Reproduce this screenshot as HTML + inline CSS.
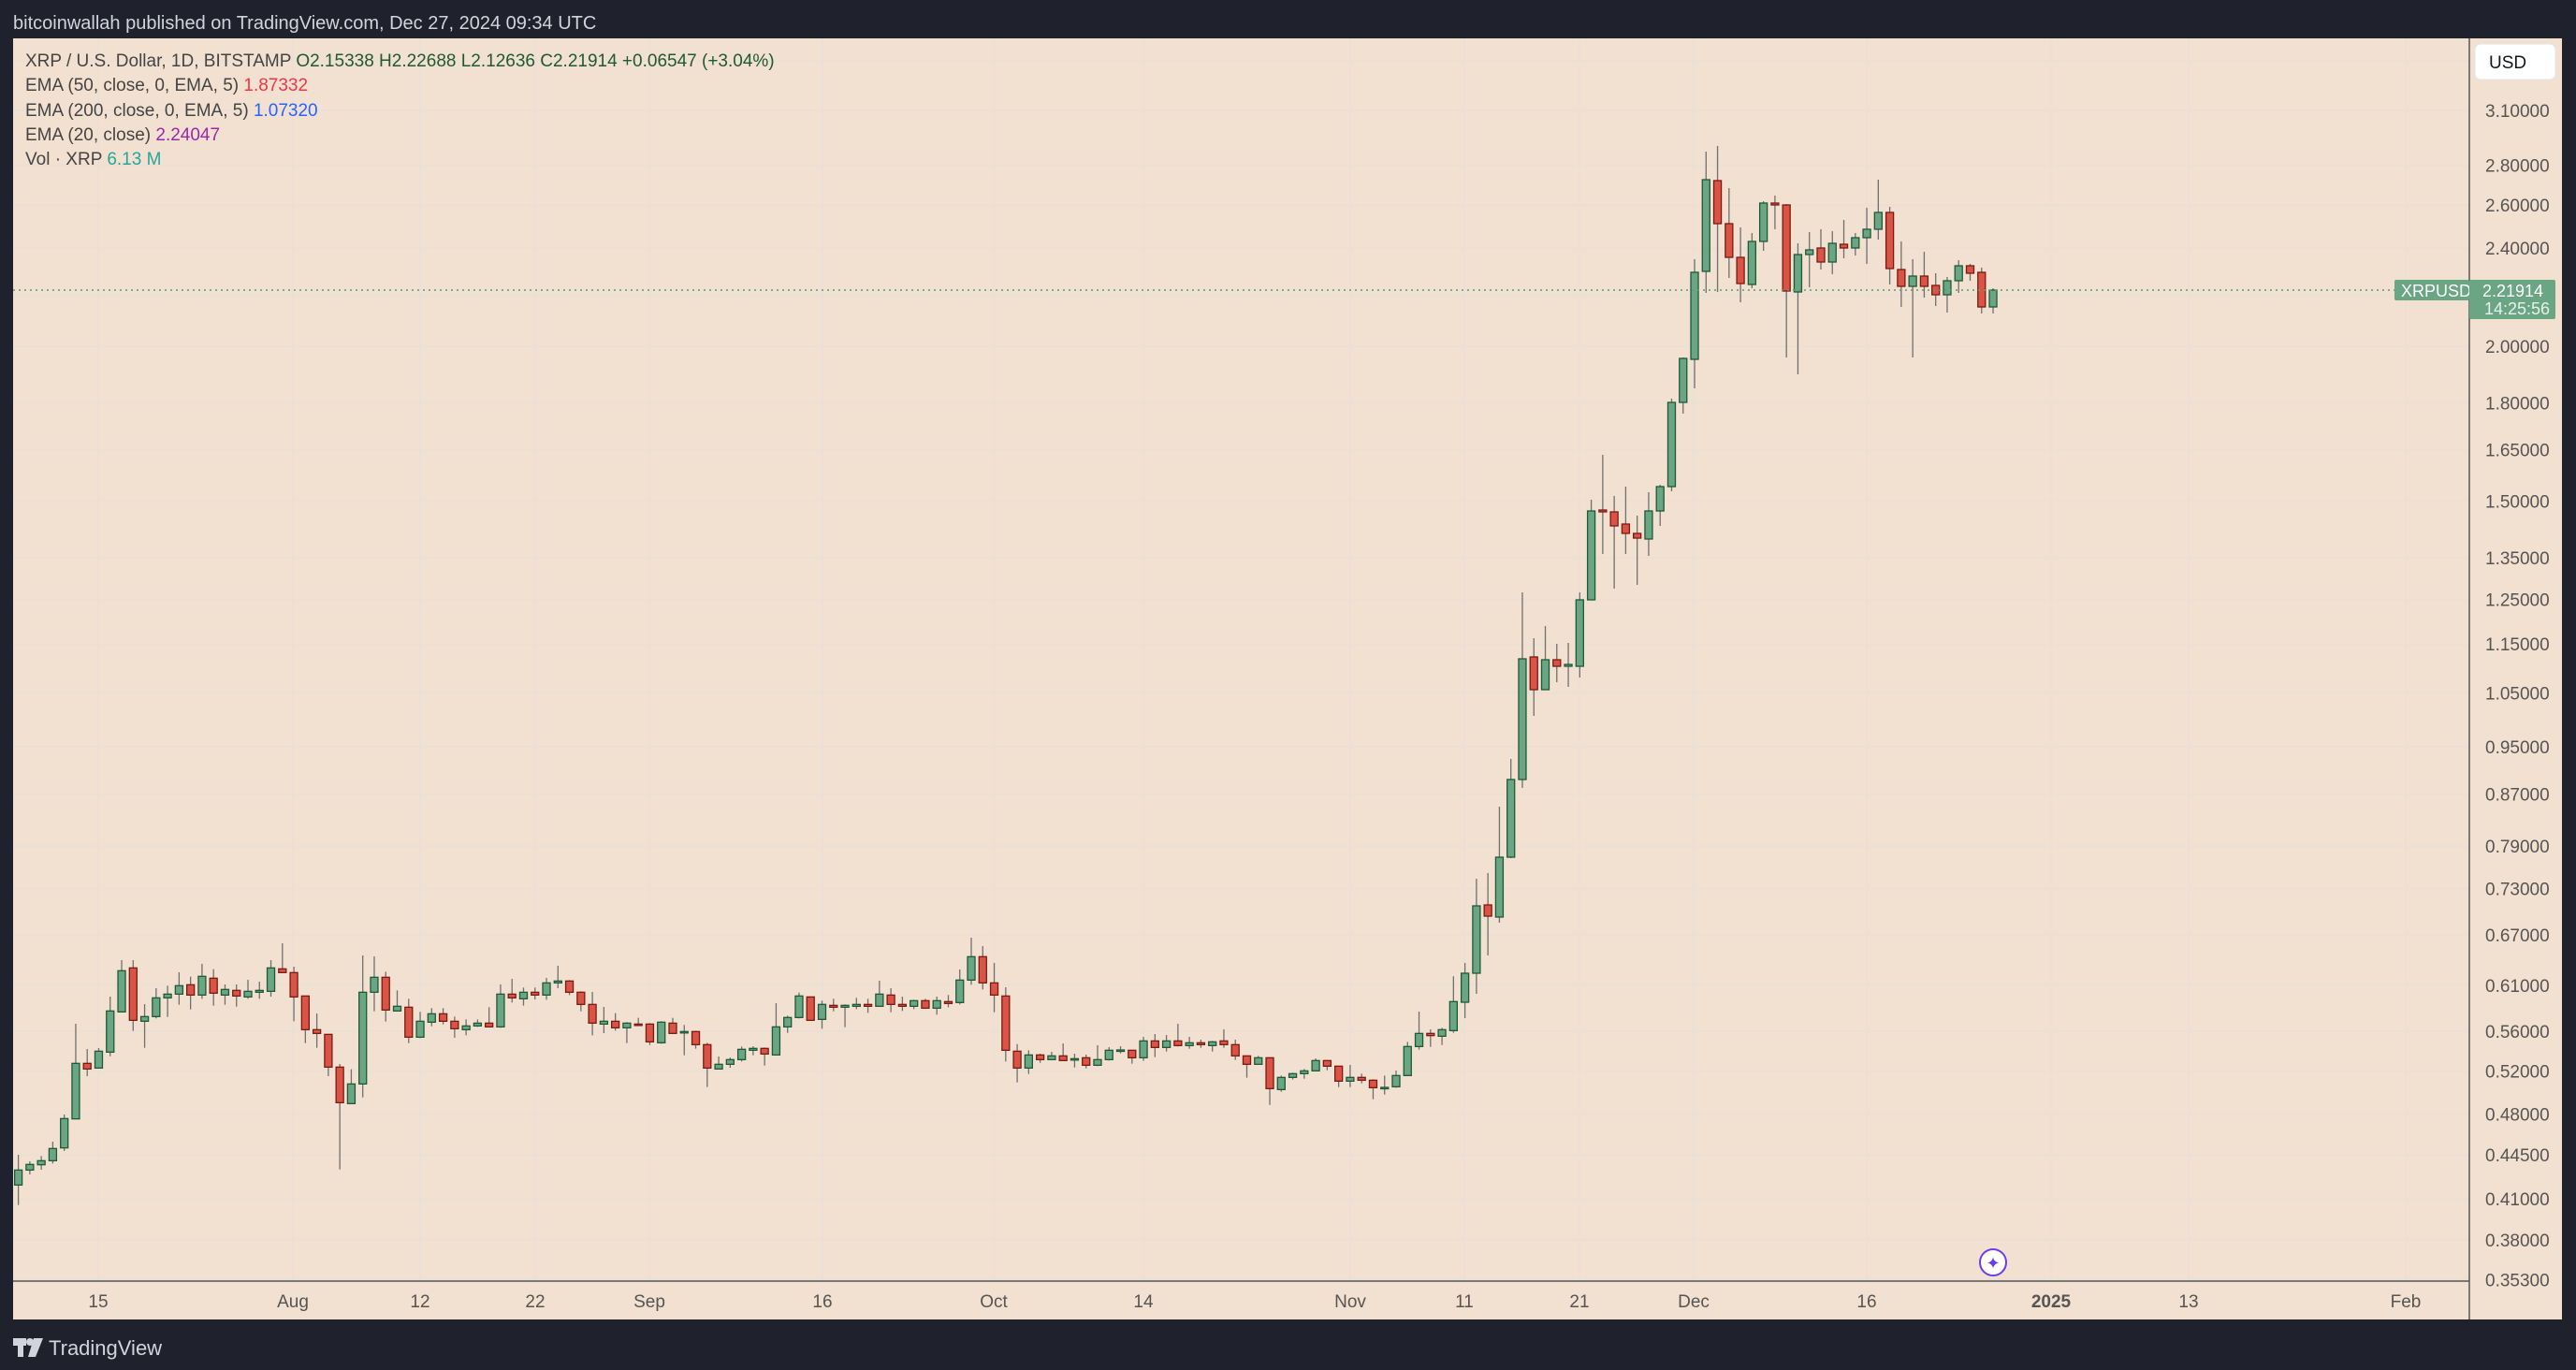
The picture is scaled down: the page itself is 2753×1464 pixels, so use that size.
<!DOCTYPE html>
<html><head><meta charset="utf-8"><style>
html,body{margin:0;padding:0;background:#1f222d;width:2753px;height:1464px;overflow:hidden}
svg text{font-family:"Liberation Sans",sans-serif}
</style></head><body>
<svg id="s" width="2753" height="1464" xmlns="http://www.w3.org/2000/svg">
<rect x="0" y="0" width="2753" height="1464" fill="#1f222d"/>
<text x="14" y="31" font-size="20" fill="#d1d4dc">bitcoinwallah published on TradingView.com, Dec 27, 2024 09:34 UTC</text>
<rect x="14" y="41" width="2724" height="1369" fill="#f2e0d0"/>
<g id="grid"></g>
<g id="candles"></g>
<line x1="14" y1="1369" x2="2639" y2="1369" stroke="#555" stroke-width="1.5"/>
<line x1="2639" y1="41" x2="2639" y2="1410" stroke="#555" stroke-width="1.5"/>
<g id="labels" font-size="19" fill="#555"></g>
<g font-size="19" fill="#444">
<text x="27" y="71">XRP / U.S. Dollar, 1D, BITSTAMP <tspan fill="#1f5a30">O2.15338  H2.22688  L2.12636  C2.21914  +0.06547 (+3.04%)</tspan></text>
<text x="27" y="97">EMA (50, close, 0, EMA, 5) <tspan fill="#f23645">1.87332</tspan></text>
<text x="27" y="124">EMA (200, close, 0, EMA, 5) <tspan fill="#2962ff">1.07320</tspan></text>
<text x="27" y="150">EMA (20, close) <tspan fill="#9c27b0">2.24047</tspan></text>
<text x="27" y="176">Vol · XRP <tspan fill="#26a69a">6.13 M</tspan></text>
</g>
<rect x="2645" y="47" width="86" height="38" rx="6" fill="#fff" stroke="#e0e3eb"/>
<text x="2660" y="73" font-size="19" fill="#131722">USD</text>
<line x1="14" y1="310" x2="2559" y2="310" stroke="#5a9e74" stroke-width="1.5" stroke-dasharray="2,4"/>
<rect x="2559" y="299" width="80" height="22" rx="2" fill="#6aa584"/>
<text x="2566" y="317" font-size="18" fill="#fff">XRPUSD</text>
<rect x="2639" y="299" width="92" height="42" rx="2" fill="#6aa584"/>
<text x="2653" y="317" font-size="18" fill="#fff">2.21914</text>
<text x="2655" y="336" font-size="18" fill="#e8f2ec">14:25:56</text>
<circle cx="2130" cy="1349" r="14" fill="#fff" stroke="#6a3df0" stroke-width="2"/>
<text x="2130" y="1356" font-size="18" fill="#6a3df0" text-anchor="middle">✦</text>
<g fill="#d1d4dc"><rect x="14" y="1430" width="14" height="8"/><rect x="19" y="1430" width="6" height="20"/><circle cx="32" cy="1434" r="4"/><polygon points="36,1430 46,1430 38,1450 30,1450"/></g>
<text x="52" y="1448" font-size="22" fill="#d1d4dc">TradingView</text>
</svg>
<script>
var NS="http://www.w3.org/2000/svg";
function el(p,t,a,tx){var e=document.createElementNS(NS,t);for(var k in a)e.setAttribute(k,a[k]);if(tx!==undefined)e.textContent=tx;document.getElementById(p).appendChild(e);return e;}
function py(p){return 370-575*(Math.log(p)-Math.log(2));}
var ticks=[3.1,2.8,2.6,2.4,2.0,1.8,1.65,1.5,1.35,1.25,1.15,1.05,0.95,0.87,0.79,0.73,0.67,0.61,0.56,0.52,0.48,0.445,0.41,0.38,0.353];
var gc="#ebdfd6";
[3.4,2.2].concat(ticks).forEach(function(p){var y=py(p);if(y<1369)el("grid","line",{x1:14,x2:2639,y1:y,y2:y,stroke:gc,"stroke-width":2});});
ticks.forEach(function(p){var y=py(p);var s=p.toFixed(5);if(p==0.445)s="0.44500";el("labels","text",{x:2656,y:y+7},s);});
var dates=[[105,"15"],[313,"Aug"],[449,"12"],[572,"22"],[694,"Sep"],[879,"16"],[1062,"Oct"],[1222,"14"],[1443,"Nov"],[1565,"11"],[1688,"21"],[1810,"Dec"],[1995,"16"],[2192,"2025"],[2339,"13"],[2571,"Feb"]];
dates.forEach(function(d){el("grid","line",{x1:d[0],x2:d[0],y1:41,y2:1369,stroke:gc,"stroke-width":2});el("labels","text",{x:d[0],y:1397,"text-anchor":"middle","font-weight":d[1]=="2025"?"bold":"normal"},d[1]);});
var A=[[811,859,762,923,'g'],[793,811,783,825,'g'],[781,794,766,810,'g'],[742,781,720,790,'g'],[646,740,633,750,'g'],[469,647,342,647,'g'],[469,487,423,510,'r'],[430,484,420,484,'g'],[301,433,255,446,'g'],[172,304,138,304,'g'],[163,331,138,365,'r'],[319,334,279,419,'g'],[259,319,228,325,'g'],[247,259,220,320,'g'],[220,247,177,281,'g'],[217,250,191,296,'r'],[190,250,150,262,'g'],[196,244,167,284,'r'],[232,250,216,281,'g'],[235,253,216,287,'r'],[238,256,201,262,'g'],[235,241,207,262,'g'],[163,238,138,255,'g'],[166,178,84,178,'r'],[178,256,159,334,'r'],[253,361,253,404,'r'],[361,373,309,419,'r'],[376,481,376,510,'r'],[481,595,471,809,'r'],[535,598,488,598,'g'],[241,535,123,578,'g'],[193,241,126,302,'g'],[193,298,175,335,'r'],[286,301,235,301,'g'],[289,385,262,404,'r'],[334,385,304,388,'g'],[310,337,292,350,'g'],[310,334,292,344,'r'],[334,358,319,387,'r'],[349,361,328,379,'g'],[340,349,328,352,'g'],[340,352,289,352,'r'],[247,352,216,355,'g'],[247,259,198,274,'r'],[241,262,226,284,'g'],[241,250,226,264,'r'],[211,250,195,265,'g'],[205,211,156,228,'g'],[205,241,202,250,'r'],[241,280,238,302,'r'],[280,340,240,379,'r'],[334,343,288,372,'g'],[334,355,308,364,'r'],[340,355,337,404,'g'],[343,345,323,349,'r'],[343,400,340,410,'r'],[337,403,334,406,'g'],[340,373,323,373,'r'],[367,370,346,443,'g'],[367,409,365,422,'r'],[409,484,403,545,'r'],[472,487,447,487,'g'],[457,472,450,483,'g'],[424,457,415,463,'g'],[421,427,414,443,'g'],[421,439,418,476,'r'],[352,442,276,442,'g'],[322,352,316,371,'g'],[253,322,242,325,'g'],[256,331,256,331,'r'],[280,328,268,358,'g'],[283,289,262,302,'r'],[283,289,280,353,'g'],[280,286,259,295,'g'],[280,286,262,307,'r'],[247,286,204,286,'g'],[250,280,228,305,'r'],[280,286,255,301,'r'],[268,286,265,295,'g'],[268,292,262,292,'r'],[268,292,255,313,'g'],[271,277,250,289,'r'],[202,274,168,280,'g'],[127,202,66,217,'g'],[127,211,93,232,'r'],[211,250,147,305,'r'],[253,427,225,463,'r'],[430,484,407,530,'r'],
[442,484,427,503,'g'],[442,457,438,467,'r'],[445,457,432,457,'g'],[445,460,405,460,'r'],[454,457,438,482,'g'],[451,475,441,485,'r'],[457,475,411,478,'g'],[427,457,417,460,'g'],[426,428,414,437,'g'],[427,451,427,470,'r'],[397,451,384,461,'g'],[397,418,375,449,'r'],[397,418,378,431,'g'],[397,412,342,415,'r'],[403,412,384,422,'g'],[403,409,393,419,'r'],[400,412,397,431,'g'],[397,409,360,419,'r'],[409,445,393,458,'r'],[445,472,445,515,'r'],[451,472,445,472,'g'],[451,550,451,602,'r'],[514,553,508,560,'g'],[502,514,499,521,'g'],[493,502,487,518,'g'],[460,493,453,493,'g'],[460,478,460,491,'r'],[478,526,478,545,'r'],[514,526,474,545,'g'],[514,523,502,533,'r'],[523,547,520,584,'r'],[546,548,508,569,'g'],[508,544,492,547,'g'],[415,508,400,508,'g'],[373,415,303,425,'g'],[373,380,360,416,'r'],[361,382,355,410,'g'],[271,364,190,371,'g']];
var B=[[1040,1071,1029,1088,'g'],[968,1040,939,1062,'g'],[967,979,933,1021,'r'],[916,980,862,986,'g'],[833,916,811,917,'g'],[704,833,633,842,'g'],[702,737,682,765,'r'],[705,737,669,737,'g'],[705,712,688,729,'r'],[710,712,687,734,'g'],[641,712,633,724,'g'],[546,641,534,641,'g'],[545,547,486,592,'r'],[547,562,530,629,'r'],[560,570,520,592,'r'],[570,575,551,625,'r'],[546,576,526,594,'g'],[520,546,518,562,'g'],[430,520,426,525,'g'],[383,430,382,442,'g'],[291,384,277,415,'g'],[192,290,162,313,'g'],[193,239,156,312,'r'],[239,275,201,297,'r'],[275,303,243,323,'r'],[258,304,249,308,'g'],[217,258,215,268,'g'],[217,219,209,245,'r'],[219,311,218,382,'r'],[272,312,260,400,'g'],[267,272,248,307,'g'],[265,280,245,288,'r'],[260,280,247,293,'g'],[261,265,235,276,'r'],[254,265,249,273,'g'],[245,254,222,282,'g'],[227,245,192,256,'g'],[227,287,221,304,'r'],[288,306,258,328,'r'],[295,306,277,382,'g'],[295,306,269,318,'r'],[305,315,292,327,'r'],[300,315,296,334,'g'],[284,300,278,313,'g'],[284,292,282,300,'r'],[291,328,286,335,'r'],[310,328,308,335,'g']];
var all=A.map(function(c){return [980+c[0]/3,980+c[1]/3,980+c[2]/3,980+c[3]/3,c[4]];}).concat(B);
all.forEach(function(c,i){var x=19.6+i*12.27;
el("candles","line",{x1:x,x2:x,y1:c[2],y2:c[3],stroke:"#707070","stroke-width":1.3});
var h=Math.max(c[1]-c[0],1.5);
el("candles","rect",{x:x-4,y:c[0],width:8,height:h,fill:c[4]=='g'?"#6aa584":"#d95444",stroke:c[4]=='g'?"#1d5a38":"#7b1a12","stroke-width":1.3});});
</script>
</body></html>
